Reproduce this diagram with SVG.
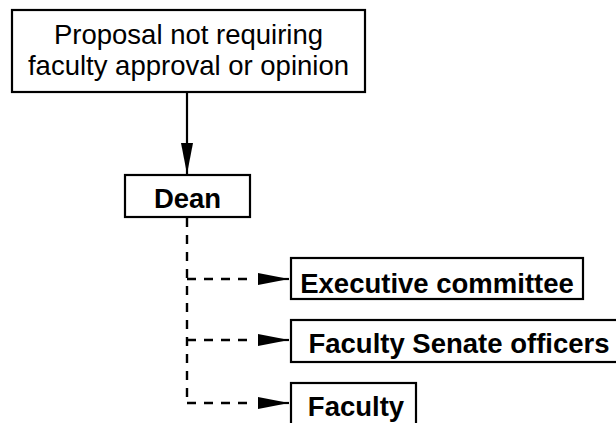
<svg xmlns="http://www.w3.org/2000/svg" width="616" height="423" viewBox="0 0 616 423">
  <style>
    .box { fill: #fff; stroke: #000; stroke-width: 2.2; }
    .t { font-family: "Liberation Sans", Arial, sans-serif; fill: #000; text-anchor: middle; }
    .reg { font-size: 27.5px; }
    .bold { font-size: 27.5px; font-weight: bold; }
    .solid { stroke: #000; stroke-width: 2.2; fill: none; }
    .dash { stroke: #000; stroke-width: 2.4; fill: none; stroke-dasharray: 9 8; }
  </style>
  <defs>
    <marker id="ah" markerUnits="userSpaceOnUse" markerWidth="32" markerHeight="14" refX="31" refY="7" orient="auto">
      <path d="M0,1 L31,7 L0,13 Z" fill="#000"/>
    </marker>
  </defs>
  <rect width="616" height="423" fill="#fff"/>
  <g id="connectors">
    <line class="solid" x1="187" y1="92" x2="187" y2="174" marker-end="url(#ah)"/>
    <line class="dash" x1="187" y1="218" x2="187" y2="403"/>
    <line class="dash" x1="187" y1="279" x2="249" y2="279"/>
    <line class="solid" x1="258" y1="279" x2="289" y2="279" marker-end="url(#ah)"/>
    <line class="dash" x1="187" y1="340" x2="249" y2="340"/>
    <line class="solid" x1="258" y1="340" x2="289" y2="340" marker-end="url(#ah)"/>
    <line class="dash" x1="187" y1="403" x2="249" y2="403"/>
    <line class="solid" x1="258" y1="403" x2="289" y2="403" marker-end="url(#ah)"/>
  </g>
  <g id="proposal">
    <rect class="box" x="12" y="10" width="353" height="82"/>
    <text class="t reg" x="188.5" y="44">Proposal not requiring</text>
    <text class="t reg" x="188.5" y="75">faculty approval or opinion</text>
  </g>
  <g id="dean">
    <rect class="box" x="125" y="175" width="125" height="42"/>
    <text class="t bold" x="187.5" y="208">Dean</text>
  </g>
  <g id="executive">
    <rect class="box" x="291" y="258" width="292" height="41"/>
    <text class="t bold" x="437" y="293">Executive committee</text>
  </g>
  <g id="senate">
    <rect class="box" x="291" y="320" width="335" height="42"/>
    <text class="t bold" x="459" y="353">Faculty Senate officers</text>
  </g>
  <g id="faculty">
    <rect class="box" x="291" y="383" width="125" height="50"/>
    <text class="t bold" x="356" y="416">Faculty</text>
  </g>
</svg>
